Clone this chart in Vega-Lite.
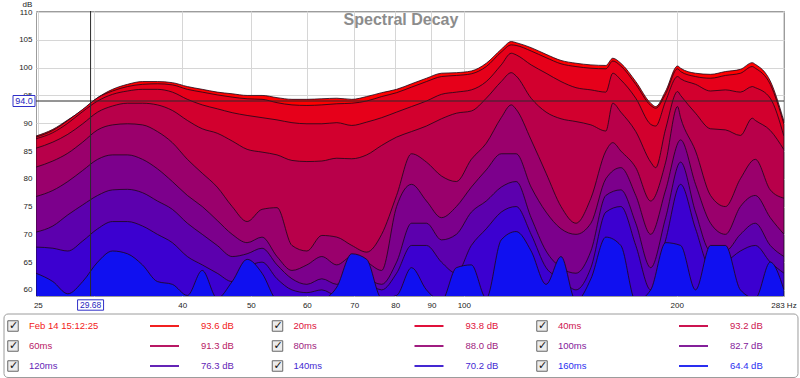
{
"$schema": "https://vega.github.io/schema/vega-lite/v6.json",
"background": "white",
"padding": {"left": 3, "top": 0, "right": 0, "bottom": 0},
"config": {"font": "Liberation Sans", "view": {"stroke": null}},
"datasets": {
"curves": [
{"t":0,"f":24.85,"d":87.7},{"t":0,"f":26.25,"d":88.9},{"t":0,"f":27.56,"d":90.6},{"t":0,"f":28.93,"d":92.4},{"t":0,"f":30.37,"d":94.6},{"t":0,"f":31.88,"d":96.1},{"t":0,"f":33.47,"d":97.0},{"t":0,"f":35.14,"d":97.5},{"t":0,"f":36.89,"d":97.5},{"t":0,"f":38.73,"d":97.3},{"t":0,"f":40.67,"d":96.6},{"t":0,"f":42.69,"d":96.1},{"t":0,"f":44.82,"d":95.6},{"t":0,"f":47.05,"d":95.3},{"t":0,"f":49.4,"d":95.0},{"t":0,"f":51.86,"d":95.0},{"t":0,"f":54.45,"d":94.6},{"t":0,"f":57.16,"d":94.3},{"t":0,"f":60.01,"d":94.3},{"t":0,"f":63,"d":94.4},{"t":0,"f":66.14,"d":94.5},{"t":0,"f":69.44,"d":94.3},{"t":0,"f":72.9,"d":94.8},{"t":0,"f":76.54,"d":95.5},{"t":0,"f":80.35,"d":96.1},{"t":0,"f":84.36,"d":97.1},{"t":0,"f":88.56,"d":98.1},{"t":0,"f":92.98,"d":99.0},{"t":0,"f":97.61,"d":99.1},{"t":0,"f":102.48,"d":99.4},{"t":0,"f":107.59,"d":100.8},{"t":0,"f":112.95,"d":103.3},{"t":0,"f":116.7,"d":104.7},{"t":0,"f":118.58,"d":104.5},{"t":0,"f":124.49,"d":103.6},{"t":0,"f":130.7,"d":102.4},{"t":0,"f":137.21,"d":101.3},{"t":0,"f":144.05,"d":100.8},{"t":0,"f":151.23,"d":100.5},{"t":0,"f":158.77,"d":100.4},{"t":0,"f":162.4,"d":101.7},{"t":0,"f":166.69,"d":100.8},{"t":0,"f":175,"d":97.5},{"t":0,"f":183.72,"d":93.6},{"t":0,"f":186.7,"d":93.0},{"t":0,"f":192.88,"d":95.8},{"t":0,"f":200.5,"d":100.3},{"t":0,"f":202.49,"d":99.9},{"t":0,"f":212.59,"d":99.0},{"t":0,"f":223.19,"d":98.8},{"t":0,"f":234.31,"d":99.3},{"t":0,"f":245.99,"d":99.7},{"t":0,"f":255.7,"d":100.9},{"t":0,"f":258.26,"d":100.6},{"t":0,"f":271.1,"d":97.6},{"t":0,"f":283.5,"d":90.3},
{"t":20,"f":24.85,"d":87.5},{"t":20,"f":26.25,"d":88.7},{"t":20,"f":27.56,"d":90.5},{"t":20,"f":28.93,"d":92.5},{"t":20,"f":30.37,"d":94.6},{"t":20,"f":31.88,"d":95.8},{"t":20,"f":33.47,"d":96.6},{"t":20,"f":35.14,"d":97.0},{"t":20,"f":36.89,"d":97.1},{"t":20,"f":38.73,"d":96.9},{"t":20,"f":40.67,"d":96.1},{"t":20,"f":42.69,"d":95.6},{"t":20,"f":44.82,"d":95.1},{"t":20,"f":47.05,"d":94.7},{"t":20,"f":49.4,"d":94.4},{"t":20,"f":51.86,"d":94.3},{"t":20,"f":54.45,"d":93.7},{"t":20,"f":57.16,"d":93.3},{"t":20,"f":60.01,"d":93.2},{"t":20,"f":63,"d":93.3},{"t":20,"f":66.14,"d":93.5},{"t":20,"f":69.44,"d":93.6},{"t":20,"f":72.9,"d":94.0},{"t":20,"f":76.54,"d":94.8},{"t":20,"f":80.35,"d":95.5},{"t":20,"f":84.36,"d":96.5},{"t":20,"f":88.56,"d":97.5},{"t":20,"f":92.98,"d":98.4},{"t":20,"f":97.61,"d":98.6},{"t":20,"f":102.48,"d":98.9},{"t":20,"f":107.59,"d":100.2},{"t":20,"f":112.95,"d":102.8},{"t":20,"f":116.7,"d":104.1},{"t":20,"f":118.58,"d":104.0},{"t":20,"f":124.49,"d":103.0},{"t":20,"f":130.7,"d":101.8},{"t":20,"f":137.21,"d":100.7},{"t":20,"f":144.05,"d":100.2},{"t":20,"f":151.23,"d":99.9},{"t":20,"f":158.77,"d":99.8},{"t":20,"f":162.4,"d":101.2},{"t":20,"f":166.69,"d":100.3},{"t":20,"f":175,"d":97.0},{"t":20,"f":183.72,"d":93.2},{"t":20,"f":186.7,"d":92.7},{"t":20,"f":192.88,"d":95.3},{"t":20,"f":200.5,"d":99.8},{"t":20,"f":202.49,"d":99.3},{"t":20,"f":212.59,"d":98.4},{"t":20,"f":223.19,"d":98.1},{"t":20,"f":234.31,"d":98.6},{"t":20,"f":245.99,"d":99.0},{"t":20,"f":255.7,"d":100.2},{"t":20,"f":258.26,"d":99.9},{"t":20,"f":271.1,"d":97.0},{"t":20,"f":283.5,"d":89.8},
{"t":40,"f":24.85,"d":87.2},{"t":40,"f":26.25,"d":88.3},{"t":40,"f":27.56,"d":90.0},{"t":40,"f":28.93,"d":92.1},{"t":40,"f":30.37,"d":94.0},{"t":40,"f":31.88,"d":95.2},{"t":40,"f":33.47,"d":95.8},{"t":40,"f":35.14,"d":96.1},{"t":40,"f":36.89,"d":96.1},{"t":40,"f":38.73,"d":95.6},{"t":40,"f":40.67,"d":94.3},{"t":40,"f":42.69,"d":93.3},{"t":40,"f":44.82,"d":92.6},{"t":40,"f":47.05,"d":91.9},{"t":40,"f":49.4,"d":91.4},{"t":40,"f":51.86,"d":91.0},{"t":40,"f":54.45,"d":90.6},{"t":40,"f":57.16,"d":90.1},{"t":40,"f":60.01,"d":89.9},{"t":40,"f":63,"d":89.9},{"t":40,"f":66.14,"d":90.1},{"t":40,"f":69.44,"d":89.6},{"t":40,"f":72.9,"d":90.2},{"t":40,"f":76.54,"d":91.0},{"t":40,"f":80.35,"d":92.0},{"t":40,"f":84.36,"d":93.0},{"t":40,"f":88.56,"d":94.0},{"t":40,"f":92.98,"d":95.2},{"t":40,"f":97.61,"d":95.6},{"t":40,"f":102.48,"d":96.0},{"t":40,"f":107.59,"d":97.5},{"t":40,"f":112.95,"d":100.5},{"t":40,"f":116.7,"d":102.6},{"t":40,"f":118.58,"d":102.3},{"t":40,"f":124.49,"d":100.5},{"t":40,"f":130.7,"d":99.0},{"t":40,"f":137.21,"d":97.5},{"t":40,"f":144.05,"d":96.4},{"t":40,"f":151.23,"d":96.0},{"t":40,"f":158.77,"d":95.6},{"t":40,"f":162.4,"d":99.0},{"t":40,"f":166.69,"d":97.8},{"t":40,"f":175,"d":94.5},{"t":40,"f":183.72,"d":89.8},{"t":40,"f":186.7,"d":89.5},{"t":40,"f":192.88,"d":94.0},{"t":40,"f":200.5,"d":98.4},{"t":40,"f":202.49,"d":98.0},{"t":40,"f":212.59,"d":97.0},{"t":40,"f":223.19,"d":95.8},{"t":40,"f":234.31,"d":96.0},{"t":40,"f":245.99,"d":95.6},{"t":40,"f":255.7,"d":96.6},{"t":40,"f":258.26,"d":96.4},{"t":40,"f":271.1,"d":94.5},{"t":40,"f":283.5,"d":87.6},
{"t":60,"f":24.85,"d":85.5},{"t":60,"f":26.25,"d":86.6},{"t":60,"f":27.56,"d":88.0},{"t":60,"f":28.93,"d":89.9},{"t":60,"f":30.37,"d":92.0},{"t":60,"f":31.88,"d":93.1},{"t":60,"f":33.47,"d":93.6},{"t":60,"f":35.14,"d":93.6},{"t":60,"f":36.89,"d":93.3},{"t":60,"f":38.73,"d":92.3},{"t":60,"f":40.67,"d":90.5},{"t":60,"f":42.69,"d":89.0},{"t":60,"f":44.82,"d":88.2},{"t":60,"f":47.05,"d":86.8},{"t":60,"f":49.4,"d":85.3},{"t":60,"f":51.86,"d":84.8},{"t":60,"f":54.45,"d":84.3},{"t":60,"f":57.16,"d":83.3},{"t":60,"f":60.01,"d":83.1},{"t":60,"f":63,"d":83.2},{"t":60,"f":66.14,"d":83.7},{"t":60,"f":69.44,"d":83.6},{"t":60,"f":72.9,"d":84.3},{"t":60,"f":76.54,"d":86.0},{"t":60,"f":80.35,"d":87.5},{"t":60,"f":84.36,"d":88.5},{"t":60,"f":88.56,"d":89.5},{"t":60,"f":92.98,"d":90.8},{"t":60,"f":97.61,"d":91.8},{"t":60,"f":102.48,"d":92.2},{"t":60,"f":107.59,"d":94.5},{"t":60,"f":112.95,"d":97.5},{"t":60,"f":116.7,"d":99.1},{"t":60,"f":118.58,"d":98.5},{"t":60,"f":124.49,"d":94.5},{"t":60,"f":130.7,"d":92.0},{"t":60,"f":137.21,"d":90.8},{"t":60,"f":144.05,"d":90.3},{"t":60,"f":151.23,"d":89.7},{"t":60,"f":158.77,"d":88.6},{"t":60,"f":162.4,"d":93.6},{"t":60,"f":166.69,"d":92.0},{"t":60,"f":175,"d":88.5},{"t":60,"f":183.72,"d":83.0},{"t":60,"f":186.7,"d":82.0},{"t":60,"f":192.88,"d":89.0},{"t":60,"f":200.5,"d":95.7},{"t":60,"f":202.49,"d":95.0},{"t":60,"f":212.59,"d":91.8},{"t":60,"f":223.19,"d":89.0},{"t":60,"f":234.31,"d":88.8},{"t":60,"f":245.99,"d":87.8},{"t":60,"f":255.7,"d":90.9},{"t":60,"f":258.26,"d":90.5},{"t":60,"f":271.1,"d":88.7},{"t":60,"f":283.5,"d":85.2},
{"t":80,"f":24.85,"d":82.1},{"t":80,"f":26.25,"d":83.2},{"t":80,"f":27.56,"d":84.6},{"t":80,"f":28.93,"d":86.6},{"t":80,"f":30.37,"d":88.8},{"t":80,"f":31.88,"d":89.7},{"t":80,"f":33.47,"d":89.9},{"t":80,"f":35.14,"d":89.7},{"t":80,"f":36.89,"d":88.5},{"t":80,"f":38.73,"d":86.5},{"t":80,"f":40.67,"d":83.5},{"t":80,"f":42.69,"d":81.0},{"t":80,"f":44.82,"d":78.5},{"t":80,"f":47.05,"d":75.0},{"t":80,"f":49.4,"d":72.3},{"t":80,"f":51.86,"d":74.5},{"t":80,"f":54.45,"d":74.8},{"t":80,"f":57.16,"d":68.0},{"t":80,"f":60.01,"d":67.0},{"t":80,"f":63,"d":69.8},{"t":80,"f":66.14,"d":69.5},{"t":80,"f":69.44,"d":68.0},{"t":80,"f":72.9,"d":66.8},{"t":80,"f":76.54,"d":70.0},{"t":80,"f":80.35,"d":77.0},{"t":80,"f":84.36,"d":84.5},{"t":80,"f":88.56,"d":83.0},{"t":80,"f":92.98,"d":80.5},{"t":80,"f":97.61,"d":79.5},{"t":80,"f":102.48,"d":83.5},{"t":80,"f":107.59,"d":86.4},{"t":80,"f":112.95,"d":91.0},{"t":80,"f":116.7,"d":93.3},{"t":80,"f":118.58,"d":92.5},{"t":80,"f":124.49,"d":87.0},{"t":80,"f":130.7,"d":81.0},{"t":80,"f":137.21,"d":75.0},{"t":80,"f":144.05,"d":72.0},{"t":80,"f":151.23,"d":76.5},{"t":80,"f":158.77,"d":85.0},{"t":80,"f":162.4,"d":86.5},{"t":80,"f":166.69,"d":85.0},{"t":80,"f":175,"d":82.0},{"t":80,"f":183.72,"d":76.0},{"t":80,"f":192.88,"d":83.0},{"t":80,"f":200.5,"d":93.0},{"t":80,"f":202.49,"d":91.0},{"t":80,"f":212.59,"d":85.0},{"t":80,"f":223.19,"d":77.0},{"t":80,"f":234.31,"d":75.0},{"t":80,"f":245.99,"d":80.0},{"t":80,"f":258.26,"d":83.5},{"t":80,"f":271.1,"d":78.0},{"t":80,"f":283.5,"d":76.5},
{"t":100,"f":24.85,"d":76.8},{"t":100,"f":26.25,"d":77.9},{"t":100,"f":27.56,"d":79.5},{"t":100,"f":28.93,"d":81.5},{"t":100,"f":30.37,"d":83.5},{"t":100,"f":31.88,"d":84.3},{"t":100,"f":33.47,"d":84.3},{"t":100,"f":35.14,"d":83.5},{"t":100,"f":36.89,"d":81.8},{"t":100,"f":38.73,"d":79.5},{"t":100,"f":40.67,"d":77.0},{"t":100,"f":42.69,"d":75.0},{"t":100,"f":44.82,"d":72.5},{"t":100,"f":47.05,"d":70.0},{"t":100,"f":49.4,"d":68.5},{"t":100,"f":51.86,"d":69.5},{"t":100,"f":54.45,"d":66.0},{"t":100,"f":57.16,"d":63.5},{"t":100,"f":60.01,"d":64.5},{"t":100,"f":63,"d":66.0},{"t":100,"f":66.14,"d":64.5},{"t":100,"f":69.44,"d":66.0},{"t":100,"f":72.9,"d":65.0},{"t":100,"f":76.54,"d":63.5},{"t":100,"f":80.35,"d":75.0},{"t":100,"f":84.36,"d":79.0},{"t":100,"f":88.56,"d":76.0},{"t":100,"f":92.98,"d":73.0},{"t":100,"f":97.61,"d":75.0},{"t":100,"f":102.48,"d":78.5},{"t":100,"f":107.59,"d":81.6},{"t":100,"f":112.95,"d":84.5},{"t":100,"f":118.58,"d":84.5},{"t":100,"f":124.49,"d":78.5},{"t":100,"f":130.7,"d":74.0},{"t":100,"f":137.21,"d":71.0},{"t":100,"f":144.05,"d":70.0},{"t":100,"f":151.23,"d":72.0},{"t":100,"f":158.77,"d":80.0},{"t":100,"f":166.69,"d":82.0},{"t":100,"f":175,"d":77.0},{"t":100,"f":183.72,"d":70.0},{"t":100,"f":192.88,"d":78.0},{"t":100,"f":202.49,"d":87.0},{"t":100,"f":212.59,"d":79.0},{"t":100,"f":223.19,"d":72.0},{"t":100,"f":234.31,"d":70.0},{"t":100,"f":245.99,"d":75.0},{"t":100,"f":258.26,"d":77.0},{"t":100,"f":271.1,"d":73.0},{"t":100,"f":283.5,"d":70.0},
{"t":120,"f":24.85,"d":70.4},{"t":120,"f":26.25,"d":71.5},{"t":120,"f":27.56,"d":73.5},{"t":120,"f":28.93,"d":75.3},{"t":120,"f":30.37,"d":77.0},{"t":120,"f":31.88,"d":78.0},{"t":120,"f":33.47,"d":78.1},{"t":120,"f":35.14,"d":77.5},{"t":120,"f":36.89,"d":76.0},{"t":120,"f":38.73,"d":74.5},{"t":120,"f":40.67,"d":72.0},{"t":120,"f":42.69,"d":70.0},{"t":120,"f":44.82,"d":68.0},{"t":120,"f":47.05,"d":66.0},{"t":120,"f":49.4,"d":66.5},{"t":120,"f":51.86,"d":67.5},{"t":120,"f":54.45,"d":64.5},{"t":120,"f":57.16,"d":62.0},{"t":120,"f":60.01,"d":61.0},{"t":120,"f":63,"d":62.0},{"t":120,"f":66.14,"d":61.0},{"t":120,"f":69.44,"d":63.0},{"t":120,"f":72.9,"d":62.0},{"t":120,"f":76.54,"d":61.0},{"t":120,"f":80.35,"d":65.0},{"t":120,"f":84.36,"d":72.0},{"t":120,"f":88.56,"d":72.0},{"t":120,"f":92.98,"d":69.0},{"t":120,"f":97.61,"d":70.0},{"t":120,"f":102.48,"d":74.0},{"t":120,"f":107.59,"d":76.0},{"t":120,"f":112.95,"d":78.5},{"t":120,"f":118.58,"d":79.5},{"t":120,"f":124.49,"d":73.0},{"t":120,"f":130.7,"d":67.0},{"t":120,"f":137.21,"d":64.0},{"t":120,"f":144.05,"d":63.0},{"t":120,"f":151.23,"d":67.0},{"t":120,"f":158.77,"d":77.0},{"t":120,"f":166.69,"d":78.0},{"t":120,"f":175,"d":72.0},{"t":120,"f":183.72,"d":64.0},{"t":120,"f":192.88,"d":73.0},{"t":120,"f":202.49,"d":83.0},{"t":120,"f":212.59,"d":74.0},{"t":120,"f":223.19,"d":67.0},{"t":120,"f":234.31,"d":67.0},{"t":120,"f":245.99,"d":70.0},{"t":120,"f":258.26,"d":72.0},{"t":120,"f":271.1,"d":68.0},{"t":120,"f":283.5,"d":66.0},
{"t":140,"f":24.85,"d":67.7},{"t":140,"f":26.25,"d":67.5},{"t":140,"f":27.56,"d":67.0},{"t":140,"f":28.93,"d":68.8},{"t":140,"f":30.37,"d":71.0},{"t":140,"f":31.88,"d":72.3},{"t":140,"f":33.47,"d":72.3},{"t":140,"f":35.14,"d":71.5},{"t":140,"f":36.89,"d":70.0},{"t":140,"f":38.73,"d":68.5},{"t":140,"f":40.67,"d":66.0},{"t":140,"f":42.69,"d":64.5},{"t":140,"f":44.82,"d":63.0},{"t":140,"f":47.05,"d":61.5},{"t":140,"f":49.4,"d":64.0},{"t":140,"f":51.86,"d":65.0},{"t":140,"f":54.45,"d":62.0},{"t":140,"f":57.16,"d":60.0},{"t":140,"f":60.01,"d":59.5},{"t":140,"f":63,"d":60.0},{"t":140,"f":66.14,"d":59.0},{"t":140,"f":69.44,"d":60.0},{"t":140,"f":72.9,"d":61.0},{"t":140,"f":76.54,"d":60.0},{"t":140,"f":80.35,"d":63.0},{"t":140,"f":84.36,"d":68.0},{"t":140,"f":88.56,"d":68.0},{"t":140,"f":92.98,"d":65.0},{"t":140,"f":97.61,"d":63.0},{"t":140,"f":102.48,"d":68.0},{"t":140,"f":107.59,"d":71.0},{"t":140,"f":112.95,"d":74.0},{"t":140,"f":118.58,"d":75.0},{"t":140,"f":124.49,"d":70.0},{"t":140,"f":130.7,"d":64.0},{"t":140,"f":137.21,"d":62.0},{"t":140,"f":144.05,"d":60.0},{"t":140,"f":151.23,"d":64.0},{"t":140,"f":158.77,"d":74.0},{"t":140,"f":166.69,"d":75.0},{"t":140,"f":175,"d":68.0},{"t":140,"f":183.72,"d":60.0},{"t":140,"f":192.88,"d":69.0},{"t":140,"f":202.49,"d":79.0},{"t":140,"f":212.59,"d":71.0},{"t":140,"f":223.19,"d":64.0},{"t":140,"f":234.31,"d":65.0},{"t":140,"f":245.99,"d":67.0},{"t":140,"f":258.26,"d":68.0},{"t":140,"f":271.1,"d":65.0},{"t":140,"f":283.5,"d":63.0},
{"t":160,"f":24.85,"d":63.0},{"t":160,"f":26.25,"d":61.5},{"t":160,"f":27.56,"d":59.3},{"t":160,"f":28.93,"d":61.5},{"t":160,"f":30.37,"d":65.0},{"t":160,"f":31.88,"d":67.0},{"t":160,"f":33.47,"d":66.5},{"t":160,"f":35.14,"d":64.5},{"t":160,"f":36.89,"d":61.5},{"t":160,"f":38.73,"d":61.0},{"t":160,"f":40.67,"d":59.0},{"t":160,"f":42.69,"d":63.5},{"t":160,"f":44.82,"d":58.5},{"t":160,"f":47.05,"d":61.5},{"t":160,"f":49.4,"d":65.5},{"t":160,"f":51.86,"d":63.0},{"t":160,"f":54.45,"d":58.0},{"t":160,"f":57.16,"d":57.0},{"t":160,"f":60.01,"d":57.0},{"t":160,"f":63,"d":58.0},{"t":160,"f":66.14,"d":60.5},{"t":160,"f":69.44,"d":66.5},{"t":160,"f":72.9,"d":65.5},{"t":160,"f":76.54,"d":58.5},{"t":160,"f":80.35,"d":59.0},{"t":160,"f":84.36,"d":64.0},{"t":160,"f":88.56,"d":60.0},{"t":160,"f":92.98,"d":58.0},{"t":160,"f":97.61,"d":64.0},{"t":160,"f":102.48,"d":64.5},{"t":160,"f":107.59,"d":58.5},{"t":160,"f":112.95,"d":69.0},{"t":160,"f":118.58,"d":70.5},{"t":160,"f":124.49,"d":67.0},{"t":160,"f":130.7,"d":61.0},{"t":160,"f":137.21,"d":66.0},{"t":160,"f":144.05,"d":58.0},{"t":160,"f":151.23,"d":62.0},{"t":160,"f":158.77,"d":69.5},{"t":160,"f":166.69,"d":68.0},{"t":160,"f":175,"d":58.0},{"t":160,"f":183.72,"d":60.0},{"t":160,"f":192.88,"d":68.5},{"t":160,"f":202.49,"d":68.0},{"t":160,"f":212.59,"d":60.0},{"t":160,"f":223.19,"d":68.0},{"t":160,"f":234.31,"d":68.0},{"t":160,"f":245.99,"d":60.0},{"t":160,"f":258.26,"d":58.5},{"t":160,"f":271.1,"d":65.0},{"t":160,"f":283.5,"d":60.0}
],
"legend": [
{"t":0,"name":"Feb 14 15:12:25","v":93.6},{"t":20,"name":"20ms","v":93.8},{"t":40,"name":"40ms","v":93.2},
{"t":60,"name":"60ms","v":91.3},{"t":80,"name":"80ms","v":88.0},{"t":100,"name":"100ms","v":82.7},
{"t":120,"name":"120ms","v":76.3},{"t":140,"name":"140ms","v":70.2},{"t":160,"name":"160ms","v":64.4}
],
"cursor": [{"f":29.68,"d":94.0}],
"heading": [{"text":"Spectral Decay"}]
},
"concat": [
{
"width": 748, "height": 285,
"view": {"stroke": "#9c9c9c", "strokeWidth": 1},
"layer": [
{
"data": {"name": "curves"},
"mark": {"type": "area", "interpolate": "monotone", "clip": true, "stroke": "#1c0818", "strokeWidth": 0.9, "strokeOpacity": 0.9, "fillOpacity": 1},
"encoding": {
"x": {"field": "f", "type": "quantitative", "scale": {"type": "log", "domain": [24.85, 283.5], "nice": false},
"axis": {"title": null, "values": [25,30,40,50,60,70,80,90,100,200,283], "labelExpr": "datum.value == 283 ? '283 Hz' : datum.value == 30 ? '' : format(datum.value, 'd')", "ticks": false, "tickSize": 0, "labelPadding": 5, "labelFontSize": 8, "labelColor": "#222", "labelFlush": false, "labelOverlap": false, "labelBaseline": "top", "domain": false, "gridColor": "#d6d6d6", "gridOpacity": 1}},
"y": {"field": "d", "type": "quantitative", "stack": null, "scale": {"domain": [58.9, 110.2], "nice": false, "zero": false},
"axis": {"title": "dB", "titleX": -9, "titleY": -4.5, "titleAngle": 0, "titleAlign": "center", "titleBaseline": "alphabetic", "titleFontSize": 8, "titleFontWeight": "normal", "titleColor": "#222", "values": [60,65,70,75,80,85,90,95,100,105,110], "ticks": false, "tickSize": 0, "labelPadding": 4, "labelFontSize": 8, "labelColor": "#222", "labelOverlap": false, "labelFlush": false, "domain": false, "gridColor": "#d6d6d6", "gridOpacity": 1, "minExtent": 32, "maxExtent": 32}},
"y2": {"datum": 50},
"color": {"field": "t", "type": "ordinal", "scale": {"domain": [0,20,40,60,80,100,120,140,160], "range": ["#ff0000","#e6001a","#d2002e","#b8004a","#9a006c","#7c008c","#5c00ae","#3c00d0","#1010f0"]}, "legend": null}
}
},
{
"data": {"name": "heading"},
"mark": {"type": "text", "fontSize": 16, "fontWeight": "bold", "color": "#8c8c8c", "baseline": "alphabetic", "align": "center"},
"encoding": {"x": {"datum": 81.5, "type": "quantitative"}, "y": {"datum": 107.77, "type": "quantitative", "axis": {"title": "dB", "titleX": -9, "titleY": -4.5, "titleAngle": 0, "titleAlign": "center", "titleBaseline": "alphabetic", "titleFontSize": 8, "titleFontWeight": "normal", "titleColor": "#222", "values": [60,65,70,75,80,85,90,95,100,105,110], "ticks": false, "tickSize": 0, "labelPadding": 4, "labelFontSize": 8, "labelColor": "#222", "labelOverlap": false, "labelFlush": false, "domain": false, "gridColor": "#d6d6d6", "gridOpacity": 1, "minExtent": 32, "maxExtent": 32}}, "text": {"field": "text"}}
},
{
"data": {"name": "cursor"},
"mark": {"type": "rule", "color": "#2a2a2a", "strokeWidth": 1},
"encoding": {"y": {"field": "d", "type": "quantitative", "axis": {"title": "dB", "titleX": -9, "titleY": -4.5, "titleAngle": 0, "titleAlign": "center", "titleBaseline": "alphabetic", "titleFontSize": 8, "titleFontWeight": "normal", "titleColor": "#222", "values": [60,65,70,75,80,85,90,95,100,105,110], "ticks": false, "tickSize": 0, "labelPadding": 4, "labelFontSize": 8, "labelColor": "#222", "labelOverlap": false, "labelFlush": false, "domain": false, "gridColor": "#d6d6d6", "gridOpacity": 1, "minExtent": 32, "maxExtent": 32}}}
},
{
"data": {"name": "cursor"},
"mark": {"type": "rule", "color": "#2a2a2a", "strokeWidth": 1},
"encoding": {"x": {"field": "f", "type": "quantitative"}}
},
{
"data": {"name": "cursor"},
"mark": {"type": "point", "shape": "M-1,-0.5H1V0.5H-1Z", "size": 484, "filled": true, "fill": "white", "stroke": "#3030c8", "strokeWidth": 1, "opacity": 1, "xOffset": -12},
"encoding": {"x": {"datum": 24.85, "type": "quantitative"}, "y": {"field": "d", "type": "quantitative", "axis": {"title": "dB", "titleX": -9, "titleY": -4.5, "titleAngle": 0, "titleAlign": "center", "titleBaseline": "alphabetic", "titleFontSize": 8, "titleFontWeight": "normal", "titleColor": "#222", "values": [60,65,70,75,80,85,90,95,100,105,110], "ticks": false, "tickSize": 0, "labelPadding": 4, "labelFontSize": 8, "labelColor": "#222", "labelOverlap": false, "labelFlush": false, "domain": false, "gridColor": "#d6d6d6", "gridOpacity": 1, "minExtent": 32, "maxExtent": 32}}}
},
{
"data": {"name": "cursor"},
"mark": {"type": "text", "color": "#2424c0", "fontSize": 9, "xOffset": -12, "baseline": "middle"},
"encoding": {"x": {"datum": 24.85, "type": "quantitative"}, "y": {"field": "d", "type": "quantitative", "axis": {"title": "dB", "titleX": -9, "titleY": -4.5, "titleAngle": 0, "titleAlign": "center", "titleBaseline": "alphabetic", "titleFontSize": 8, "titleFontWeight": "normal", "titleColor": "#222", "values": [60,65,70,75,80,85,90,95,100,105,110], "ticks": false, "tickSize": 0, "labelPadding": 4, "labelFontSize": 8, "labelColor": "#222", "labelOverlap": false, "labelFlush": false, "domain": false, "gridColor": "#d6d6d6", "gridOpacity": 1, "minExtent": 32, "maxExtent": 32}}, "text": {"field": "d", "format": ".1f"}}
},
{
"data": {"name": "cursor"},
"mark": {"type": "point", "shape": "M-1,-0.4H1V0.4H-1Z", "size": 676, "filled": true, "fill": "white", "stroke": "#3030c8", "strokeWidth": 1, "opacity": 1, "yOffset": 9},
"encoding": {"x": {"field": "f", "type": "quantitative"}, "y": {"datum": 58.9, "type": "quantitative", "axis": {"title": "dB", "titleX": -9, "titleY": -4.5, "titleAngle": 0, "titleAlign": "center", "titleBaseline": "alphabetic", "titleFontSize": 8, "titleFontWeight": "normal", "titleColor": "#222", "values": [60,65,70,75,80,85,90,95,100,105,110], "ticks": false, "tickSize": 0, "labelPadding": 4, "labelFontSize": 8, "labelColor": "#222", "labelOverlap": false, "labelFlush": false, "domain": false, "gridColor": "#d6d6d6", "gridOpacity": 1, "minExtent": 32, "maxExtent": 32}}}
},
{
"data": {"name": "cursor"},
"mark": {"type": "text", "color": "#2424c0", "fontSize": 8.5, "yOffset": 9, "baseline": "middle"},
"encoding": {"x": {"field": "f", "type": "quantitative"}, "y": {"datum": 58.9, "type": "quantitative", "axis": {"title": "dB", "titleX": -9, "titleY": -4.5, "titleAngle": 0, "titleAlign": "center", "titleBaseline": "alphabetic", "titleFontSize": 8, "titleFontWeight": "normal", "titleColor": "#222", "values": [60,65,70,75,80,85,90,95,100,105,110], "ticks": false, "tickSize": 0, "labelPadding": 4, "labelFontSize": 8, "labelColor": "#222", "labelOverlap": false, "labelFlush": false, "domain": false, "gridColor": "#d6d6d6", "gridOpacity": 1, "minExtent": 32, "maxExtent": 32}}, "text": {"field": "f", "format": ".2f"}}
}
]
},
{
"width": 748, "height": 64,
"data": {"name": "legend"},
"transform": [
{"calculate": "(datum.t / 20) % 3", "as": "col"},
{"calculate": "floor(datum.t / 60)", "as": "row"},
{"calculate": "format(datum.v, '.1f') + ' dB'", "as": "label"}
],
"encoding": {
"x": {"field": "col", "type": "quantitative", "scale": {"domain": [0, 2.828], "nice": false, "zero": false}, "axis": null},
"y": {"field": "row", "type": "quantitative", "scale": {"domain": [-0.6, 2.6], "reverse": true, "nice": false, "zero": false}, "axis": null}
},
"layer": [
{"mark": {"type": "rect", "fill": "white", "stroke": "#9c9c9c", "strokeWidth": 1, "cornerRadius": 4, "xOffset": -32, "x2Offset": 233, "yOffset": -12, "y2Offset": 11.5},
 "encoding": {"x": {"aggregate": "min", "field": "col", "type": "quantitative", "axis": null}, "x2": {"aggregate": "max", "field": "col"}, "y": {"aggregate": "min", "field": "row", "type": "quantitative", "axis": null}, "y2": {"aggregate": "max", "field": "row"}}},
{"mark": {"type": "point", "shape": "square", "size": 110, "filled": true, "fill": "#ececec", "stroke": "#666666", "strokeWidth": 1, "opacity": 1, "xOffset": -23}},
{"mark": {"type": "text", "text": "✓", "font": "DejaVu Sans", "fontWeight": "bold", "fontSize": 11, "color": "#111111", "xOffset": -22.5, "baseline": "middle"}},
{"mark": {"type": "text", "align": "left", "baseline": "middle", "fontSize": 9.5, "xOffset": -7},
 "encoding": {"text": {"field": "name"}, "color": {"field": "t", "type": "ordinal", "scale": {"domain": [0,20,40,60,80,100,120,140,160], "range": ["#f22020","#e0103a","#cc1450","#b81864","#a01c80","#84209a","#6424b6","#4428d2","#2a2ef0"]}, "legend": null}}},
{"mark": {"type": "rule", "strokeWidth": 2, "xOffset": 114, "x2Offset": 143},
 "encoding": {"x2": {"field": "col"}, "color": {"field": "t", "type": "ordinal", "scale": {"domain": [0,20,40,60,80,100,120,140,160], "range": ["#f22020","#e0103a","#cc1450","#b81864","#a01c80","#84209a","#6424b6","#4428d2","#2a2ef0"]}, "legend": null}}},
{"mark": {"type": "text", "align": "left", "baseline": "middle", "fontSize": 9.5, "xOffset": 165},
 "encoding": {"text": {"field": "label"}, "color": {"field": "t", "type": "ordinal", "scale": {"domain": [0,20,40,60,80,100,120,140,160], "range": ["#f22020","#e0103a","#cc1450","#b81864","#a01c80","#84209a","#6424b6","#4428d2","#2a2ef0"]}, "legend": null}}}
],
"resolve": {"scale": {"color": "independent"}}
}
],
"columns": 1,
"spacing": 0,
"resolve": {"scale": {"color": "independent"}}
}
